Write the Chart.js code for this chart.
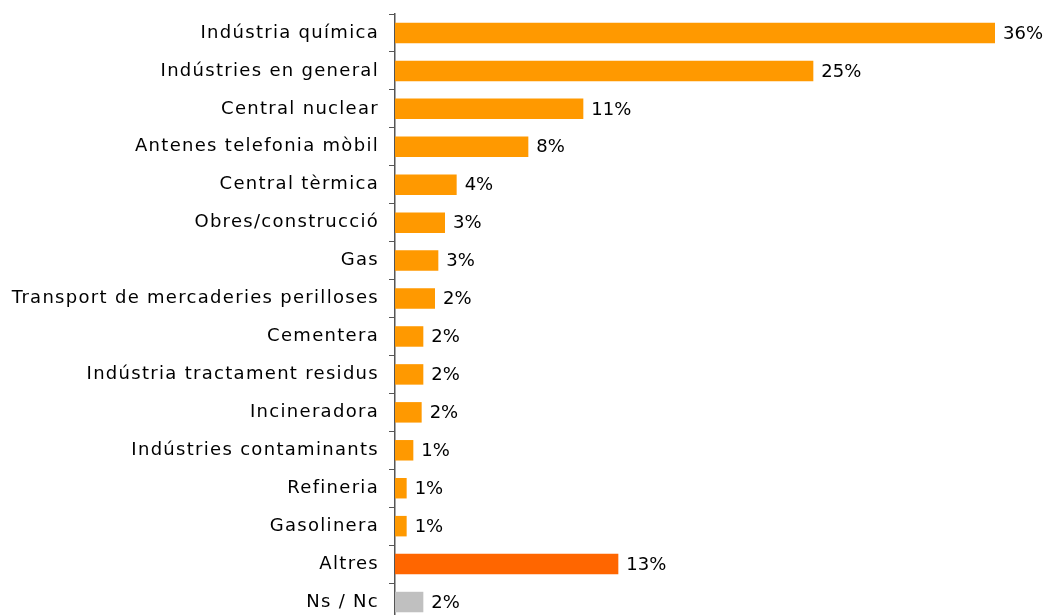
<!DOCTYPE html>
<html>
<head>
<meta charset="utf-8">
<script src="https://cdn.jsdelivr.net/npm/chart.js@4/dist/chart.umd.min.js"></script>
<style>
  html, body { margin: 0; padding: 0; background: #fff; overflow: hidden; }
</style>
</head>
<body>
<canvas id="chart" width="1045" height="621"></canvas>
<script>
// categories and values (percent)
const categories = [
  'Indústria química', 'Indústries en general', 'Central nuclear', 'Antenes telefonia mòbil',
  'Central tèrmica', 'Obres/construcció', 'Gas', 'Transport de mercaderies perilloses',
  'Cementera', 'Indústria tractament residus', 'Incineradora', 'Indústries contaminants',
  'Refineria', 'Gasolinera', 'Altres', 'Ns / Nc'
];
const values = [36, 25.1, 11.3, 8.0, 3.7, 3.0, 2.6, 2.4, 1.7, 1.7, 1.6, 1.1, 0.7, 0.7, 13.4, 1.7];
const barColors = [
  '#FF9900', '#FF9900', '#FF9900', '#FF9900', '#FF9900', '#FF9900', '#FF9900', '#FF9900',
  '#FF9900', '#FF9900', '#FF9900', '#FF9900', '#FF9900', '#FF9900', '#FF6600', '#C0C0C0'
];

const FONT = "'DejaVu Sans', sans-serif";

// wider spacing for the category names (the original font is broad)
const spacing = {
  id: 'spacing',
  beforeDraw(chart) { chart.ctx.letterSpacing = '1.3px'; },
  afterDraw(chart) { chart.ctx.letterSpacing = '0px'; }
};

// percent labels at the end of each bar
const valueLabels = {
  id: 'valueLabels',
  afterDatasetsDraw(chart) {
    const ctx = chart.ctx;
    const meta = chart.getDatasetMeta(0);
    ctx.save();
    ctx.letterSpacing = '0px';
    ctx.font = '18px ' + FONT;
    ctx.fillStyle = '#000';
    ctx.textBaseline = 'middle';
    meta.data.forEach((bar, i) => {
      ctx.fillText(Math.round(values[i]) + '%', bar.x + 8, bar.y + 1);
    });
    ctx.restore();
  }
};

new Chart(document.getElementById('chart'), {
  type: 'bar',
  data: {
    labels: categories,
    datasets: [{
      data: values,
      backgroundColor: barColors,
      barPercentage: 0.54,
      categoryPercentage: 1
    }]
  },
  options: {
    responsive: false,
    indexAxis: 'y',
    animation: false,
    layout: { padding: { top: 14, right: 8, bottom: 0, left: 0 } },
    plugins: { legend: { display: false }, tooltip: { enabled: false } },
    scales: {
      x: { display: false, min: 0, max: 38.52 },
      y: {
        afterFit(scale) {
          scale.width = 395;
          scale.paddingTop = 0;
          scale.paddingBottom = 0;
        },
        border: { display: true, color: '#555', width: 1.5 },
        grid: { display: true, drawOnChartArea: false, drawTicks: true, tickLength: 6, color: '#555', offset: true },
        ticks: { color: '#000', padding: 10, font: { family: FONT, size: 18 } }
      }
    }
  },
  plugins: [spacing, valueLabels]
});
</script>
</body>
</html>
